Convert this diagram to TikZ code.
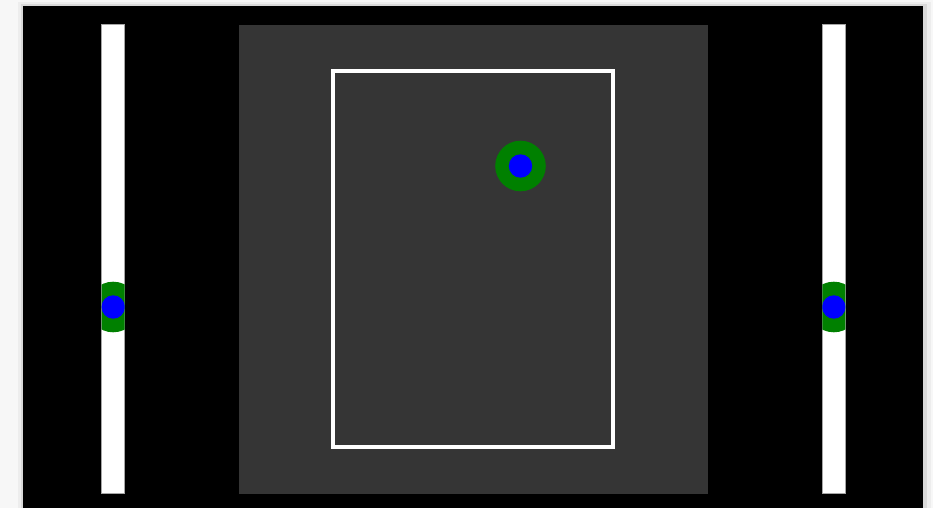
\documentclass[tikz,border=0pt]{standalone}
\usepackage{xcolor}
\usepackage{tikz}
\usetikzlibrary{positioning}
\definecolor{court}{HTML}{353535}
\definecolor{ballgreen}{RGB}{0,128,0}

\begin{document}
\begin{tikzpicture}[
  x=1pt,y=-1pt,
  paddle/.style={fill=white,draw=gray!70,line width=0.5pt},
  ring/.style={circle,fill=ballgreen,minimum size=50.6pt,inner sep=0pt},
  dot/.style={circle,fill=blue,minimum size=23.4pt,inner sep=0pt},
  zone/.style={draw=white,line width=4pt}
]
  \useasboundingbox (0,0) rectangle (933,508);
  % shadow round the screen
  \fill[gray!6] (0,0) rectangle (933,508);
  \fill[gray!14] (18,2) rectangle (931,508);
  \fill[gray!30] (21,4) rectangle (927,508);
  \fill[black] (23,6) rectangle (923,508);

  % field
  \fill[court] (239,25) rectangle (708,493.7);
  \draw[zone] (332.5,71) rectangle (612.5,446.5);

  % paddles
  \draw[paddle] (101.7,24.7) rectangle (124.7,493.7);
  \draw[paddle] (822.3,24.7) rectangle (845.3,493.7);
  \begin{scope}
    \clip (101.7,24.7) rectangle (124.7,493.7);
    \node[ring] (ringL) at (113.2,307) {};
    \node[dot] (dotL) at (ringL) {};
  \end{scope}
  \begin{scope}
    \clip (822.3,24.7) rectangle (845.3,493.7);
    \node[ring] (ringR) at (833.8,307) {};
    \node[dot] (dotR) at (ringR) {};
  \end{scope}

  % ball
  \node[ring] (ball) at (520.5,166) {};
  \node[dot] (core) at (ball) {};
\end{tikzpicture}
\end{document}
